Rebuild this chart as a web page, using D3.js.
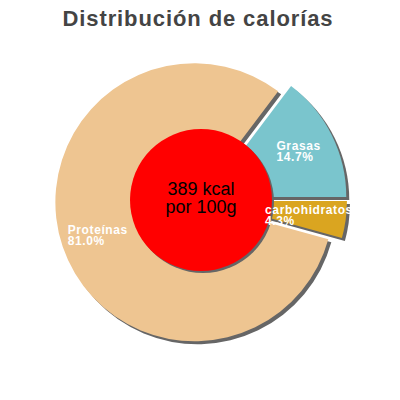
<!DOCTYPE html>
<html>
<head>
<meta charset="utf-8">
<script src="https://cdn.jsdelivr.net/npm/d3@7"></script>
<style>
  body { margin: 0; background: #fff; }
  svg { display: block; font-family: 'Liberation Sans', Arial, sans-serif; }
  .title { font-size: 22px; font-weight: bold; fill: #444; letter-spacing: 0.9px; }
  .label { font-size: 12px; font-weight: bold; fill: #fff; letter-spacing: 0.6px; }
  .center { font-size: 18px; fill: #000; }
</style>
</head>
<body>
<svg id="chart" width="400" height="400"></svg>
<script>
const categories = ['Proteínas', 'Grasas', 'carbohidratos']
const shares = [81.0, 14.7, 4.3]
const colors = ['#EEC591', '#7AC5CD', '#DAA520']
const energyLines = ['389 kcal', 'por 100g']
const titleText = 'Distribución de calorías'

const svg = d3.select('#chart')
const cx = 201
const cy = 200
const radius = 139
const holeRadius = 71
const explode = 7
const labelRadius = 102
const shadow = { dx: 3, dy: 3, color: '#666' }

svg.append('text').classed('title', true)
  .attr('x', 198).attr('y', 26)
  .attr('text-anchor', 'middle')
  .text(titleText)

const total = d3.sum(shares)
const start = Math.PI / 2 - 2 * Math.PI * (shares[0] + shares[1]) / total
const pie = d3.pie().sort(null).startAngle(start).endAngle(start + 2 * Math.PI)
const arcs = pie(shares)
const arc = d3.arc().innerRadius(0).outerRadius(radius)

const offset = d => {
  const a = (d.startAngle + d.endAngle) / 2
  return [Math.sin(a) * explode, -Math.cos(a) * explode]
}

const g = svg.append('g').attr('transform', `translate(${cx},${cy})`)

// shadows first, then slices
g.selectAll('path.shadow').data(arcs).join('path')
  .classed('shadow', true)
  .attr('fill', shadow.color)
  .attr('transform', d => { const o = offset(d); return `translate(${o[0] + shadow.dx},${o[1] + shadow.dy})` })
  .attr('d', arc)

g.selectAll('path.slice').data(arcs).join('path')
  .classed('slice', true)
  .attr('fill', (d, i) => colors[i])
  .attr('transform', d => { const o = offset(d); return `translate(${o[0]},${o[1]})` })
  .attr('d', arc)

g.append('circle').attr('cx', 2).attr('cy', 2).attr('r', holeRadius).attr('fill', shadow.color)
g.append('circle').attr('r', holeRadius).attr('fill', '#f00')

g.selectAll('text.center').data(energyLines).join('text')
  .classed('center', true)
  .attr('text-anchor', 'middle')
  .attr('y', (d, i) => -5 + i * 18)
  .text(d => d)

const labelArc = d3.arc().innerRadius(labelRadius).outerRadius(labelRadius)
arcs.forEach((d, i) => {
  const o = offset(d)
  const c = labelArc.centroid(d)
  const t = g.append('text').classed('label', true)
  t.append('tspan').text(categories[i])
  t.append('tspan').text(d3.format('.1f')(shares[i]) + '%')
  const tspans = t.selectAll('tspan').nodes()
  const w = d3.max(tspans, n => n.getComputedTextLength())
  const x = c[0] + o[0] - w / 2
  const y = c[1] + o[1]
  tspans.forEach((n, k) => d3.select(n).attr('x', x).attr('y', y - 1 + k * 11))
})
</script>
</body>
</html>
